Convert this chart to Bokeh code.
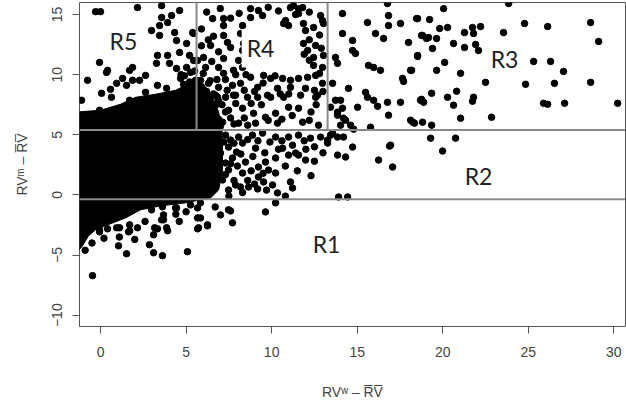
from bokeh.plotting import figure
from bokeh.models import Range1d, FixedTicker, Span, Label
from bokeh.embed import file_html
from bokeh.resources import INLINE

# ---------------- data ----------------
x_ticks = [0, 5, 10, 15, 20, 25, 30]
y_ticks = [-10, -5, 0, 5, 10, 15]

# region borders
h_lines = [5.39, -0.36]
v_lines = [5.61, 13.27]
v_from = 5.39
v_to = 16.5

# outline of the fully black, over-plotted core of the cloud
core_x = [-1.5, 0.0, 1.17, 2.05, 3.21, 4.38, 5.26, 5.73, 6.20, 6.60, 6.90, 7.10, 7.13, 7.13, 6.90,
          6.43, 5.84, 4.97, 3.51, 2.34, 1.46, 0.58, -0.29, -0.70, -1.05, -1.5]
core_y = [6.88, 7.04, 7.54, 8.12, 8.37, 8.70, 9.30, 9.40, 8.90, 8.00, 6.90, 5.39, 3.73, 2.07, 0.41,
          -0.25, -0.41, -0.66, -0.91, -1.24, -1.91, -2.40, -2.90, -3.40, -4.23, -4.97]

# dots on the ragged edge of the core
edge_x = [1.70, -0.06, 2.16, 2.98, 3.62, 4.44, 5.67, 3.57, 3.86, 3.16, 1.70, 1.11, -0.06, -0.64]
edge_y = [7.87, 7.04, -0.99, -1.24, -0.99, -1.08, -1.08, -2.07, -2.73, -2.73, -2.49, -2.73, -3.07,
          -2.73]

# scattered points, region R5 / top-left
r5_x = [-0.29, 0.0, 2.16, 3.57, 4.62, 4.15, 3.57, 3.92, 3.45, 2.98, 3.45, 4.33, 4.44, 5.03, 5.38,
        4.62, 5.20, 3.92, 3.33, 3.27, 4.03, 4.44, 5.03, 5.67, -0.06, 0.41, 0.35, 1.70, 1.87, -0.76,
        1.29, 1.87, 2.28, 0.94, 1.52, 3.33, 3.86, 0.06, 0.64, -1.11, 2.63, 4.68, 5.26, 5.55, 4.85,
        0.58, 2.63, 4.90, 5.20, 5.50, 4.70]
r5_y = [15.24, 15.24, 15.58, 15.74, 15.33, 14.91, 14.75, 14.33, 14.08, 13.67, 13.26, 13.50, 12.84,
        12.59, 13.50, 11.85, 11.60, 11.60, 11.60, 10.94, 10.94, 10.52, 10.60, 11.18, 11.02, 10.36,
        10.19, 10.36, 10.60, 9.53, 9.69, 9.53, 9.53, 9.28, 9.11, 9.11, 8.86, 8.45, 8.12, 7.87, 8.53,
        9.69, 10.19, 9.53, 9.20, 8.78, 9.94, 9.90, 9.40, 10.30, 10.00]

# region R4
r4_x = [6.55, 7.19, 7.19, 8.77, 9.23, 9.47, 8.77, 8.30, 11.10, 11.57, 10.81, 10.99, 11.86, 11.98,
        12.45, 12.97, 7.19, 8.18, 6.43, 7.42, 7.60, 8.36, 8.30, 7.19, 8.07, 11.86, 12.57, 12.10,
        12.45, 13.03, 12.45, 12.97, 6.02, 6.14, 6.90, 7.19, 7.77, 8.30, 8.77, 9.53, 9.94, 10.64,
        11.10, 11.57, 12.10, 12.57, 5.84, 6.31, 6.90, 7.71, 8.18, 9.18, 10.34, 11.10, 11.98, 12.97,
        5.84, 6.84, 7.77, 8.59, 9.76, 10.70, 11.69, 12.57, 5.44, 5.44, 11.57, 12.86, 13.03, 10.70,
        11.28, 11.81,
        5.90, 6.20, 6.60, 6.90, 7.10, 7.30, 6.90, 7.60, 7.80, 7.00, 6.40, 6.80, 7.40, 7.90, 8.40,
        8.60, 8.80, 9.40, 9.80, 10.60, 11.20, 12.30, 12.60, 12.20, 11.00, 9.50, 10.20, 6.60, 6.90,
        6.30, 7.60, 8.10, 9.80, 10.40, 11.40, 12.20, 12.80, 12.20, 12.90, 12.20, 11.90, 12.80, 13.00,
        12.50, 10.50, 9.00, 8.40, 7.30, 7.90, 8.50, 6.00, 6.50, 5.90, 5.90, 6.20, 7.00]
r4_y = [14.66, 14.66, 14.08, 15.49, 15.33, 14.91, 14.75, 14.08, 15.58, 15.49, 14.50, 14.08, 14.25,
        13.67, 13.92, 14.50, 13.26, 13.42, 12.43, 12.68, 12.26, 12.59, 12.01, 11.35, 11.18, 12.59,
        12.43, 12.01, 11.43, 11.60, 10.77, 10.60, 11.43, 10.60, 10.60, 10.11, 10.36, 10.60, 9.78,
        9.94, 9.69, 9.69, 9.53, 9.69, 9.78, 9.94, 9.53, 9.28, 8.95, 9.11, 9.28, 8.95, 8.86, 8.95,
        8.86, 9.28, 8.29, 8.12, 8.29, 8.12, 8.29, 8.12, 8.29, 8.12, 13.42, 11.18, 15.08, 14.91,
        14.25, 14.25, 15.74, 15.58,
        9.00, 8.60, 8.40, 7.80, 7.50, 6.90, 6.30, 6.40, 5.90, 5.70, 9.50, 9.60, 8.70, 7.60, 6.40,
        5.80, 7.60, 7.50, 6.20, 6.30, 6.60, 6.90, 7.50, 6.20, 8.40, 9.30, 9.90, 13.20, 11.90,
        12.90, 14.70, 15.10, 15.60, 15.30, 15.00, 15.20, 13.30, 12.90, 12.20, 11.20, 11.70, 10.10,
        8.60, 8.70, 8.40, 8.60, 8.70, 9.60, 10.00, 10.00, 10.10, 11.10, 12.40, 13.80, 15.20, 15.50]

# region R3
r3_x = [14.14, 15.60, 16.07, 16.54, 16.83, 16.83, 17.53, 18.53, 18.82, 19.17, 18.00, 18.53, 16.77,
        14.14, 14.73, 14.73, 14.90, 13.73, 13.85, 15.66, 15.96, 16.36, 17.65, 18.12, 14.49, 15.49,
        15.60, 15.96, 16.77, 17.53, 18.70, 16.83, 18.12, 18.82, 13.56, 14.03, 14.14, 13.85, 14.20,
        14.61, 15.78, 13.44, 15.02, 13.73, 13.85, 14.32, 14.03, 16.19, 17.71, 20.05, 23.85, 18.47,
        19.23, 19.82, 20.28, 21.27, 21.74, 21.80, 22.21, 23.55, 24.78, 26.13, 28.64, 29.11, 18.76,
        19.05, 19.64, 19.40, 20.63, 21.27, 21.92, 22.09, 18.53, 20.11, 25.31, 26.30, 27.06, 18.18,
        19.64, 21.04, 22.50, 24.84, 26.53, 28.64, 20.81, 19.35, 20.28, 21.80, 21.74, 18.76, 18.88,
        20.63, 25.89, 26.13, 27.12, 30.22, 21.04, 22.85, 18.24, 18.35, 19.35]
r3_y = [15.08, 14.33, 13.42, 13.01, 14.91, 14.08, 14.25, 14.66, 13.26, 13.09, 12.68, 11.60, 15.91,
        13.42, 12.84, 12.01, 11.76, 11.43, 10.94, 10.77, 10.60, 10.36, 9.69, 10.36, 8.86, 8.53, 8.12,
        7.87, 7.70, 7.70, 7.87, 6.63, 6.21, 6.05, 9.28, 7.87, 7.21, 6.63, 6.38, 5.80, 5.63, 7.29,
        7.29, 7.87, 6.88, 6.21, 5.80, 7.37, 9.44, 15.49, 15.91, 14.66, 14.58, 13.84, 13.92, 13.50,
        13.92, 13.42, 14.00, 13.50, 14.25, 14.00, 14.33, 12.76, 13.26, 13.01, 13.01, 12.18, 12.59,
        12.26, 12.51, 12.01, 11.52, 11.02, 11.10, 11.10, 10.27, 10.36, 10.36, 10.11, 9.36, 9.20,
        9.28, 9.36, 8.62, 8.45, 8.12, 8.12, 7.79, 7.95, 7.70, 7.46, 7.62, 7.54, 7.62, 7.62, 6.38,
        6.46, 6.05, 5.97, 5.80]

# region R2 (between the two horizontal lines)
r2_x = [13.85, 14.20, 14.73, 16.95, 16.25, 17.07, 13.85, 14.32, 12.86, 13.27, 12.27, 19.29, 20.75,
        19.99, 13.56, 13.27, 14.79, 16.89, 13.91, 14.44, 7.31, 8.07, 8.88, 9.47, 10.23, 10.99,
        11.57, 13.44, 7.48, 8.30, 9.06, 10.64, 11.22, 11.40, 11.57, 11.98, 10.99, 10.23, 9.64, 7.01,
        7.71, 8.47, 9.23, 9.82, 10.23, 9.23, 9.53, 10.05, 11.10, 11.22, 10.34, 7.48, 8.30, 7.89,
        8.18, 7.13, 7.48, 8.65, 9.18, 7.60, 7.95, 7.31, 6.72, 7.31, 7.89, 9.18, 9.94, 12.68, 6.72,
        7.48, 8.30, 8.94, 9.64, 10.23, 10.99, 11.57, 11.81, 10.34, 9.06, 8.07, 7.13, 12.74,
        7.20, 7.80, 8.60, 9.20, 9.90, 10.60, 11.90, 12.50, 12.00, 10.40, 9.60, 8.90, 8.20, 7.60,
        8.00, 8.80, 9.50, 10.80, 11.50, 12.30, 7.30, 7.80, 8.60, 9.00, 8.30, 7.50, 9.70, 10.80,
        12.50, 13.00]
r2_y = [4.81, 4.81, 3.98, 4.14, 2.90, 2.32, 3.31, 3.15, 4.81, 4.56, 4.72, 4.72, 4.72, 3.65, 5.14,
        4.31, 5.47, 4.06, -0.17, -0.17, 4.97, 4.81, 4.97, 5.14, 4.81, 4.81, 4.97, 4.97, 3.98, 4.31,
        3.89, 3.89, 4.14, 3.48, 3.31, 2.90, 3.31, 3.07, 2.73, 3.48, 3.07, 2.73, 2.32, 2.07, 1.82,
        1.49, 1.08, 0.83, 1.08, 0.58, 0.17, 2.07, 1.82, 0.83, 0.66, 1.24, 0.41, 0.66, 0.50, 4.56,
        3.56, 2.65, 8.29, 8.12, 8.29, 8.12, 8.12, 8.29, 7.46, 7.04, 7.21, 6.79, 6.46, 6.79, 7.29,
        7.21, 6.05, 5.97, 5.97, 5.97, 6.05, 5.80,
        4.40, 4.30, 4.60, 4.50, 4.40, 4.50, 4.50, 4.00, 3.80, 3.80, 3.50, 3.20, 3.40, 2.60,
        2.40, 2.00, 1.80, 2.40, 2.00, 1.60, 1.70, 1.20, 1.20, 0.90, 0.20, -0.10, 0.40, -0.10,
        2.80, 3.50]

# region R1 (below the lower line)
r1_x = [5.84, 10.23, 7.48, 7.01, 7.71, 5.84, 9.64, 6.25, 1.05, 1.52, 2.86, 3.10, 3.62, 3.10, 3.33,
        3.92, 5.08, 5.67, 6.25, -0.47, -0.06, 0.41, 0.94, 1.70, 2.16, 1.64, 4.38, 3.68, 3.68, 5.26,
        5.67, 5.73, 7.60, 4.40, 5.00, 6.70, 4.60, 2.60, 2.00, 1.10, 0.20, -0.50, -0.90]
r1_y = [-0.66, -0.66, -1.24, -1.66, -2.32, -1.91, -1.41, -2.49, -4.23, -4.89, -4.14, -4.81, -5.05,
        -3.31, -2.82, -2.98, -4.72, -2.82, -2.57, -6.71, -2.90, -2.82, -2.73, -2.98, -2.73, -3.07,
        -1.08, -1.66, -2.07, -0.83, -1.91, -2.73, -1.33, -1.60, -1.40, -1.00, -2.20, -2.20, -3.70,
        -3.50, -3.60, -4.00, -4.60]

region_names = ["R1", "R2", "R3", "R4", "R5"]
region_x = [13.21, 22.09, 23.61, 9.35, 1.34]
region_y = [-4.06, 1.57, 11.27, 12.18, 12.84]
region_boxed = [False, False, False, True, True]

pts_x = edge_x + r5_x + r4_x + r3_x + r2_x + r1_x
pts_y = edge_y + r5_y + r4_y + r3_y + r2_y + r1_y

# ---------------- figure ----------------
p = figure(width=626, height=402,
           x_range=Range1d(-1.23, 30.68), y_range=Range1d(-10.94, 16.0),
           output_backend="svg", toolbar_location=None,
           min_border_left=79, min_border_right=1, min_border_top=2, min_border_bottom=75)
p.background_fill_color = "white"
p.border_fill_color = "white"
p.grid.visible = False
p.outline_line_color = "#555555"
p.outline_line_width = 1

p.patch(core_x, core_y, color="black", line_width=1)
p.scatter(pts_x, pts_y, size=6.5, color="black")

for yv in h_lines:
    p.add_layout(Span(location=yv, dimension="width", line_color="#8a8a8a", line_width=2))
p.segment(x0=v_lines, y0=[v_from] * len(v_lines), x1=v_lines, y1=[v_to] * len(v_lines),
          line_color="#8a8a8a", line_width=2)

for name, lx, ly, boxed in zip(region_names, region_x, region_y, region_boxed):
    lab = Label(x=lx, y=ly, text=name, text_align="center", text_baseline="middle",
                text_font="Lato", text_font_size="23px", text_color="#222222")
    if boxed:
        lab.background_fill_color = "white"
        lab.padding = 5
    p.add_layout(lab)

for ax in (p.xaxis[0], p.yaxis[0]):
    ax.axis_line_color = None
    ax.major_tick_line_color = "#555555"
    ax.major_tick_out = 7
    ax.major_tick_in = 0
    ax.minor_tick_line_color = None
    ax.major_label_text_font = "Liberation Sans"
    ax.major_label_text_font_size = "14px"
    ax.major_label_text_color = "#444444"
    ax.axis_label_text_font = "Liberation Sans"
    ax.axis_label_text_font_size = "14px"
    ax.axis_label_text_font_style = "normal"
    ax.axis_label_text_color = "#444444"

p.xaxis[0].major_label_standoff = 13
p.xaxis[0].axis_label_standoff = 24
p.yaxis[0].major_label_standoff = 10
p.yaxis[0].axis_label_standoff = 20

p.xaxis[0].ticker = FixedTicker(ticks=x_ticks)
p.yaxis[0].ticker = FixedTicker(ticks=y_ticks)
p.yaxis[0].major_label_orientation = "vertical"
p.xaxis[0].axis_label = "RV\u02b7 \u2013 R\u0305V\u0305"
p.yaxis[0].axis_label = "RV\u1d50 \u2013 R\u0305V\u0305"

open("out.html", "w").write(file_html(p, INLINE))
